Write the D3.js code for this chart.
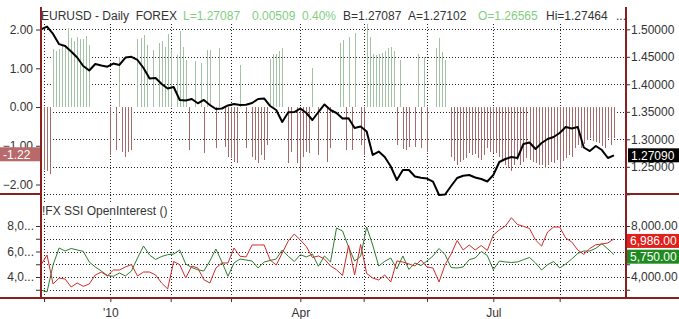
<!DOCTYPE html>
<html>
<head>
<meta charset="utf-8">
<script src="https://cdn.jsdelivr.net/npm/d3@7"></script>
<style>
  html, body { margin: 0; padding: 0; background: #fff; }
  svg { display: block; font-family: "Liberation Sans", Arial, sans-serif; font-size: 12px; }
  .axis text { fill: #333; font-size: 12px; }
  .axis line { stroke: #333; }
  .axis path { display: none; }
</style>
</head>
<body>
<svg id="chart" width="679" height="319"></svg>
<script>
// -- Data (x = trading day index from late Nov 2009) -----------
const monthDays = [1, 23, 43, 63, 86, 107, 128, 150, 172];
const xLabelDays = [23, 86, 150];
const xLabels = ["'10", "Apr", "Jul"];

// EURUSD daily close, every 2nd trading day
const priceValues = [
  1.500, 1.505, 1.4915, 1.473, 1.4696, 1.4596, 1.4487, 1.4333, 1.4251, 1.4369,
  1.4342, 1.432, 1.4378, 1.4351, 1.4487, 1.45, 1.4442, 1.4296, 1.4105, 1.4115,
  1.4005, 1.3924, 1.3951, 1.3715, 1.3705, 1.3733, 1.3655, 1.3715, 1.3624, 1.3551,
  1.356, 1.3615, 1.3642, 1.3624, 1.3627, 1.366, 1.3733, 1.3742, 1.3605, 1.3533,
  1.3315, 1.3491, 1.3496, 1.356, 1.3478, 1.3351, 1.3496, 1.3633, 1.3533, 1.3478,
  1.3378, 1.3382, 1.3205, 1.3233, 1.3142, 1.2715, 1.2778, 1.2678, 1.2505, 1.226,
  1.2442, 1.2442, 1.2324, 1.2302, 1.2287, 1.2229, 1.1987, 1.1996, 1.2151, 1.2296,
  1.2338, 1.2351, 1.2305, 1.2278, 1.2233, 1.2351, 1.2587, 1.2642, 1.2678, 1.266,
  1.2915, 1.2942, 1.2824, 1.2933, 1.3005, 1.3042, 1.3115, 1.3224, 1.3196, 1.3224,
  1.2851, 1.2787, 1.2878, 1.2805, 1.266, 1.2709
];

// SSI histogram bars (day index / value)
const ssiDays = [
  0, 1, 2, 3, 4, 5, 6, 7, 8, 9, 10, 11, 12, 13, 14, 15, 16,
  23, 25, 26, 27, 28, 29, 30, 32, 33, 34, 35, 37,
  39, 40, 41, 42, 43, 45, 46, 47, 48, 49, 51, 53, 54, 55, 56, 58, 59,
  61, 62, 63, 64, 65, 66, 68, 70, 71, 72, 73, 74, 75, 76, 77, 78, 79, 80,
  82, 83, 85, 86, 87, 88, 89, 90, 92, 95, 96,
  99, 100, 101, 102, 103, 104, 106, 107, 108, 109, 110, 111, 112, 113, 114, 115, 116, 117,
  118, 119, 120, 121, 122, 124, 125, 126, 127, 128, 131, 132, 133, 134,
  136, 137, 138, 139, 140, 141, 142, 143, 144, 145, 146, 147, 148, 149, 150,
  151, 152, 153, 154, 155, 156, 157, 158, 159, 160, 161, 162, 163, 164, 165,
  166, 167, 168, 169, 170, 171, 172, 173, 174, 175, 176, 177, 178, 179, 180,
  181, 182, 183, 184, 185, 186, 187, 188, 189, 190
];
const ssiValues = [
  -2.30, -1.62, -1.66, -1.72, 1.49, 1.45, 1.50, 1.58, 1.55, 2.05, 1.78, 1.70, 1.80, 1.76, 1.75, 1.82, 1.60,
  -1.23, -1.11, 1.30, -1.15, -1.28, -1.15, -1.11, 1.75, 1.78, 1.87, 1.60, 1.47,
  1.64, 1.70, 1.55, 1.88, 1.50, 1.35, 1.96, 1.55, 1.21, -1.11, 1.20, 1.13, -1.19, 1.47, 1.47, -1.05, 1.51,
  -1.02, -1.28, -1.32, -1.41, -1.45, 1.08, -1.06, -1.28, -1.36, -1.45, -1.23, -1.36, -0.98, 1.25, 1.38, 1.38, 1.45, 1.51,
  -1.45, -1.15, -1.45, -1.66, -1.28, -1.15, -1.19, 1.00, -1.23, -1.41, -1.06,
  1.64, 1.72, -1.11, 1.80, -1.11, 1.92, -0.98, -1.23, 2.15, 1.81, 1.38, 1.35, 1.38, 1.40, 1.45, 1.51, 1.55, 1.45,
  -0.98, 1.21, -1.08, -1.11, -1.02, -1.02, 1.38, -1.06, 1.30, -1.15, 1.51, 1.77, 1.42, 1.21,
  -1.30, -1.40, -1.49, -1.41, -1.36, -1.32, -1.19, -1.25, -1.22, -1.32, -1.36, -1.23, -1.06, -1.15, -1.19,
  -1.19, -1.30, -1.40, -1.50, -1.58, -1.66, -1.49, -1.36, -1.49, -1.41, -1.32, -1.36, -1.41, -1.45, -1.49,
  -1.49, -1.58, -1.49, -1.41, -1.45, -1.36, -1.58, -1.40, -1.32, -1.23, -1.28, -1.06, -0.98, -1.06, -0.95,
  -0.85, -0.80, -0.89, -0.90, -0.93, -1.00, -1.06, -0.80, -0.98, -0.80
];

// SSI open interest, every 2nd trading day
const oiRedValues = [
  4940, 5725, 3450, 3920, 3840, 3215, 3530, 3270, 3450, 4160,
  4390, 4080, 4550, 4550, 4785, 4980, 4080, 4390, 4390, 4160,
  3530, 3060, 5215, 4965, 3920, 4860, 4705, 3790, 3530, 4705,
  5100, 5100, 6275, 5625, 5570, 6510, 6510, 6510, 5333, 4940,
  5880, 6825, 7370, 6900, 6390, 5530, 5650, 5410, 4860, 4570,
  4120, 6470, 4160, 6550, 4275, 3920, 3765, 4160, 3610, 5255,
  5180, 5020, 4860, 5333, 4785, 4705, 3610, 4965, 5800, 6860,
  6120, 6510, 6120, 6470, 6080, 7295, 7690, 8000, 8650, 8120,
  7975, 7805, 6900, 6430, 7530, 7920, 7920, 7060, 6745, 6120,
  5765, 6235, 6530, 6590, 6670, 6986
];
const oiGreenValues = [
  2980, 2825, 4940, 6275, 6040, 6235, 6120, 6015, 5180, 4785,
  4470, 4120, 4055, 4315, 4080, 4470, 5490, 6430, 5725, 5375,
  5610, 5750, 5800, 6120, 5020, 4745, 4570, 4470, 5255, 6195,
  5180, 4055, 5100, 5410, 5333, 5255, 4705, 5180, 5295, 5410,
  6120, 5625, 5215, 5750, 5570, 5800, 4840, 5650, 5180, 7840,
  7610, 6350, 5255, 5625, 7920, 6510, 4860, 5230, 5490, 4630,
  5650, 4590, 5100, 4900, 5255, 5650, 6235, 5750, 4745, 4705,
  4785, 5360, 5490, 6000, 5685, 4570, 5255, 5180, 5140, 5180,
  5360, 5530, 5100, 4550, 4965, 5215, 4705, 5020, 5410, 5845,
  6040, 6040, 6250, 6610, 6195, 5750
];

const ssiTicks = [-2, -1, 0, 1, 2];
const priceTicks = [1.20, 1.25, 1.30, 1.35, 1.40, 1.45, 1.50];
const oiTicks = [3000, 4000, 5000, 6000, 7000, 8000];

// -- Layout ---------------------------------------------------
const LEFT = 41, RIGHT = 626, TOP = 7, DIVIDE = 194, BOTTOM = 298;
const AXIS_COLOR = "#8a1f1f";

const svg = d3.select("#chart");

const x = d3.scaleLinear().domain([0, 194]).range([LEFT, RIGHT]);
const ySsi = d3.scaleLinear().domain([-2, 2]).range([184.5, 29.5]);
const yPrice = d3.scaleLinear().domain([1.20, 1.50]).range([194.3, 29.3]);
const yOi = d3.scaleLinear().domain([3000, 8000]).range([289.75, 226]);

const stepDays = priceValues.map((d, i) => i * 2);
const snap = (v) => Math.round(v) + 0.5;

// -- Dotted grid ----------------------------------------------
const grid = svg.append("g")
  .attr("stroke", "#222")
  .attr("stroke-dasharray", "1,2")
  .attr("shape-rendering", "crispEdges");

grid.selectAll(".gp").data(priceTicks).join("line")
  .attr("x1", LEFT).attr("x2", RIGHT)
  .attr("y1", (d) => snap(yPrice(d))).attr("y2", (d) => snap(yPrice(d)));

grid.selectAll(".go").data(oiTicks).join("line")
  .attr("x1", LEFT).attr("x2", RIGHT)
  .attr("y1", (d) => snap(yOi(d))).attr("y2", (d) => snap(yOi(d)));

grid.selectAll(".gv").data(monthDays).join("line")
  .attr("x1", (d) => snap(x(d))).attr("x2", (d) => snap(x(d)))
  .attr("y1", 24).attr("y2", BOTTOM);

// -- SSI histogram --------------------------------------------
svg.append("g")
  .attr("shape-rendering", "crispEdges")
  .selectAll("line")
  .data(ssiDays.map((d, i) => ({ day: d, value: ssiValues[i] })))
  .join("line")
  .attr("x1", (d) => snap(x(d.day)))
  .attr("x2", (d) => snap(x(d.day)))
  .attr("y1", ySsi(0))
  .attr("y2", (d) => ySsi(d.value))
  .attr("stroke", (d) => (d.value >= 0 ? "#a3c2a3" : "#a56a6a"))
  .attr("stroke-width", 1);

// -- Price line -----------------------------------------------
const priceLine = d3.line()
  .x((d, i) => x(stepDays[i]))
  .y((d) => yPrice(d));

svg.append("path")
  .datum(priceValues)
  .attr("d", priceLine)
  .attr("fill", "none")
  .attr("stroke", "#000")
  .attr("stroke-width", 2)
  .attr("stroke-linejoin", "round");

// -- Open interest lines --------------------------------------
const oiLine = d3.line()
  .x((d, i) => x(stepDays[i]))
  .y((d) => yOi(d));

svg.append("path")
  .datum(oiGreenValues)
  .attr("d", oiLine)
  .attr("fill", "none")
  .attr("stroke", "#2e7d2e")
  .attr("stroke-width", 1);

svg.append("path")
  .datum(oiRedValues)
  .attr("d", oiLine)
  .attr("fill", "none")
  .attr("stroke", "#d22b2b")
  .attr("stroke-width", 1);

// -- Axes -----------------------------------------------------
svg.append("g")
  .attr("class", "axis")
  .attr("transform", `translate(${LEFT},0)`)
  .call(d3.axisLeft(ySsi).tickValues(ssiTicks).tickSize(5).tickPadding(3).tickFormat(d3.format(".2f")));

svg.append("g")
  .attr("class", "axis")
  .attr("transform", `translate(${RIGHT},0)`)
  .call(d3.axisRight(yPrice).tickValues(priceTicks).tickSize(4).tickPadding(1)
    .tickFormat((d) => (d < 1.22 ? "" : d3.format(".5f")(d))));

svg.append("g")
  .attr("class", "axis")
  .attr("transform", `translate(${LEFT},0)`)
  .call(d3.axisLeft(yOi).tickValues(oiTicks).tickSize(5).tickPadding(2)
    .tickFormat((d) => (d % 2000 === 0 ? d3.format(",")(d).slice(0, 3) + "..." : "")));

svg.append("g")
  .attr("class", "axis")
  .attr("transform", `translate(${RIGHT},0)`)
  .call(d3.axisRight(yOi).tickValues(oiTicks).tickSize(4).tickPadding(1)
    .tickFormat((d) => (d === 8000 || d === 4000 ? d3.format(",.2f")(d) : "")));

svg.append("g")
  .attr("class", "axis")
  .attr("transform", `translate(0,${BOTTOM})`)
  .call(d3.axisBottom(x).tickValues(monthDays).tickSize(4).tickPadding(6)
    .tickFormat((d) => {
      const k = xLabelDays.indexOf(d);
      return k >= 0 ? xLabels[k] : "";
    }));

// -- Frame lines ----------------------------------------------
const frame = svg.append("g")
  .attr("stroke", AXIS_COLOR)
  .attr("stroke-width", 1.5)
  .attr("shape-rendering", "crispEdges");

frame.append("line").attr("x1", LEFT).attr("x2", LEFT).attr("y1", TOP).attr("y2", BOTTOM);
frame.append("line").attr("x1", RIGHT).attr("x2", RIGHT).attr("y1", TOP).attr("y2", BOTTOM);
frame.append("line").attr("x1", 0).attr("x2", 679).attr("y1", BOTTOM).attr("y2", BOTTOM);
frame.append("line").attr("x1", 0).attr("x2", LEFT).attr("y1", DIVIDE).attr("y2", DIVIDE);
frame.append("line").attr("x1", RIGHT).attr("x2", 679).attr("y1", DIVIDE).attr("y2", DIVIDE);

// -- Header texts ---------------------------------------------
const header = [
  { text: "EURUSD - Daily  FOREX", x: 41, color: "#333" },
  { text: "L=1.27087", x: 183, color: "#7fcf7f" },
  { text: "0.00509", x: 252, color: "#7fcf7f" },
  { text: "0.40%", x: 302, color: "#7fcf7f" },
  { text: "B=1.27087", x: 343, color: "#333" },
  { text: "A=1.27102", x: 408, color: "#333" },
  { text: "O=1.26565", x: 478, color: "#7fcf7f" },
  { text: "Hi=1.27464", x: 546, color: "#333" },
  { text: "...", x: 616, color: "#333" },
];

svg.append("g")
  .selectAll("text")
  .data(header)
  .join("text")
  .attr("x", (d) => d.x)
  .attr("y", 20)
  .attr("fill", (d) => d.color)
  .style("white-space", "pre")
  .text((d) => d.text);

// panel title sits on white, hiding the grid dots behind it
const title = svg.append("text")
  .attr("x", 42)
  .attr("y", 215)
  .attr("fill", "#333")
  .text("!FX SSI OpenInterest ()");
const tb = title.node().getBBox();
svg.insert("rect", () => title.node())
  .attr("x", tb.x).attr("y", tb.y)
  .attr("width", tb.width).attr("height", tb.height)
  .attr("fill", "#fff");

// -- Value tags -----------------------------------------------
function tag(x0, w, yc, fill, label) {
  const g = svg.append("g");
  g.append("rect")
    .attr("x", x0).attr("y", yc - 7)
    .attr("width", w).attr("height", 14)
    .attr("fill", fill);
  g.append("text")
    .attr("x", x0 + 3).attr("y", yc + 4.5)
    .attr("fill", "#fff")
    .text(label);
}

tag(0, 40, ySsi(-1.22), "#b86a6a", "-1.22");
tag(628, 51, yPrice(1.2709), "#000", "1.27090");
tag(627, 52, yOi(6986) + 2, "#e0201c", "6,986.00");
tag(627, 52, yOi(5750) + 2, "#1f8a1f", "5,750.00");
</script>
</body>
</html>
